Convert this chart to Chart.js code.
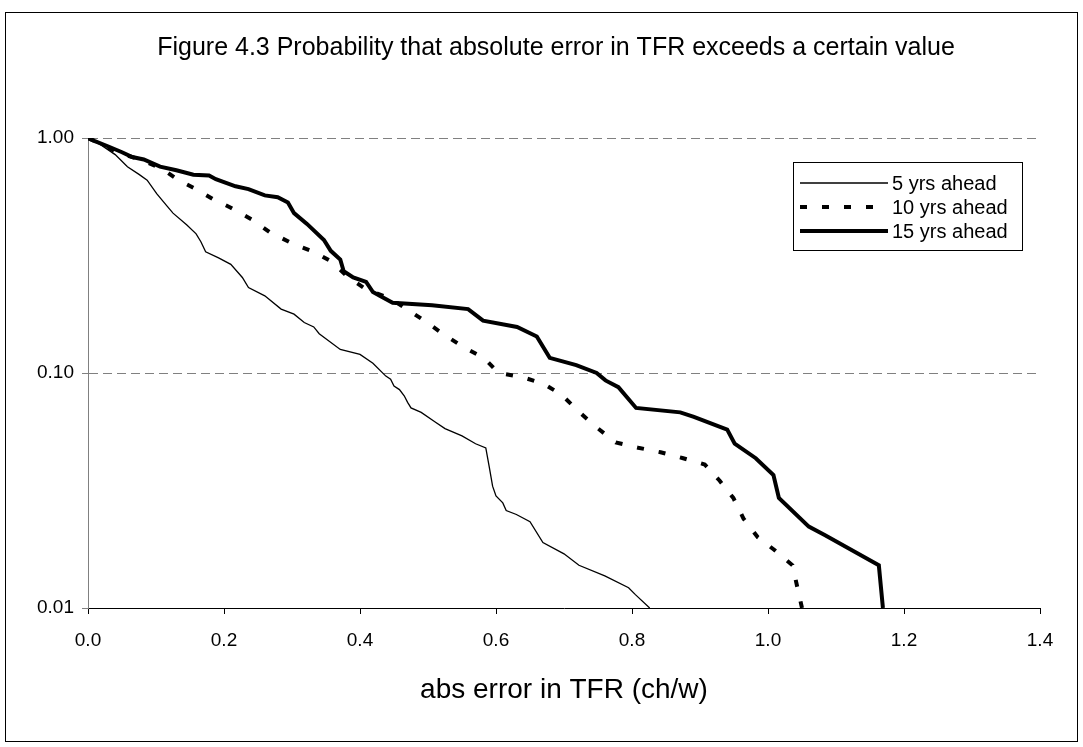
<!DOCTYPE html>
<html>
<head>
<meta charset="utf-8">
<script src="https://cdn.jsdelivr.net/npm/chart.js@4"></script>
<style>
    html, body { margin: 0; padding: 0; background: #ffffff; }
    #wrap { width: 1083px; height: 747px; }
</style>
</head>
<body>
<div id="wrap"><canvas id="tfrChart" width="1083" height="747"></canvas></div>
<script>
const chartTitle = "Figure 4.3 Probability that absolute error in TFR exceeds a certain value";
const xTitle = "abs error in TFR (ch/w)";
const seriesNames = ["5 yrs ahead", "10 yrs ahead", "15 yrs ahead"];

const err5 = [0, 0.01, 0.02, 0.04, 0.058, 0.075, 0.087, 0.101, 0.116, 0.125, 0.145, 0.159, 0.166, 0.173,
    0.192, 0.21, 0.227, 0.236, 0.26, 0.284, 0.303, 0.318, 0.332, 0.34, 0.371, 0.4, 0.419, 0.438, 0.445,
    0.45, 0.458, 0.465, 0.47, 0.475, 0.49, 0.51, 0.525, 0.55, 0.57, 0.585, 0.59, 0.595, 0.6, 0.61, 0.615,
    0.63, 0.65, 0.669, 0.7, 0.722, 0.76, 0.795, 0.805, 0.826];
const prob5 = [1, 0.97, 0.93, 0.85, 0.755, 0.7, 0.662, 0.58, 0.514, 0.479, 0.427, 0.391, 0.362, 0.328,
    0.309, 0.29, 0.255, 0.231, 0.213, 0.187, 0.178, 0.164, 0.157, 0.147, 0.126, 0.12, 0.11, 0.097, 0.094,
    0.088, 0.085, 0.08, 0.075, 0.071, 0.068, 0.062, 0.058, 0.054, 0.05, 0.048, 0.04, 0.033, 0.03, 0.028, 0.026,
    0.025, 0.0233, 0.019, 0.017, 0.0152, 0.0137, 0.0122, 0.0114, 0.01];

const err10 = [0, 0.02, 0.043, 0.077, 0.108, 0.133, 0.159, 0.183, 0.21, 0.241, 0.267, 0.301, 0.332, 0.358,
    0.383, 0.409, 0.444, 0.47, 0.496, 0.52, 0.552, 0.582, 0.604, 0.639, 0.67, 0.696, 0.723, 0.747, 0.776,
    0.809, 0.842, 0.874, 0.907, 0.929, 0.949, 0.964, 0.985, 1.009, 1.036, 1.043, 1.05];
const prob10 = [1, 0.94, 0.869, 0.81, 0.742, 0.662, 0.606, 0.551, 0.505, 0.45, 0.398, 0.355, 0.328, 0.298,
    0.255, 0.227, 0.208, 0.186, 0.166, 0.148, 0.129, 0.116, 0.1, 0.096, 0.09, 0.081, 0.068, 0.059, 0.0507,
    0.0481, 0.046, 0.0435, 0.0408, 0.0348, 0.0294, 0.024, 0.02, 0.0177, 0.0152, 0.0123, 0.01];

const err15 = [0, 0.01, 0.03, 0.05, 0.065, 0.082, 0.106, 0.13, 0.155, 0.178, 0.188, 0.217, 0.236, 0.26,
    0.279, 0.294, 0.303, 0.322, 0.347, 0.357, 0.371, 0.376, 0.39, 0.409, 0.419, 0.429, 0.448, 0.506, 0.559,
    0.581, 0.631, 0.66, 0.679, 0.718, 0.748, 0.761, 0.78, 0.806, 0.871, 0.891, 0.94, 0.951, 0.982, 1.008,
    1.016, 1.06, 1.084, 1.163, 1.169];
const prob15 = [1, 0.97, 0.92, 0.87, 0.83, 0.81, 0.755, 0.729, 0.698, 0.692, 0.668, 0.623, 0.606, 0.57,
    0.56, 0.532, 0.479, 0.431, 0.368, 0.331, 0.304, 0.271, 0.255, 0.244, 0.221, 0.213, 0.199, 0.194, 0.187,
    0.167, 0.157, 0.143, 0.116, 0.108, 0.1, 0.093, 0.087, 0.071, 0.068, 0.065, 0.0574, 0.05, 0.0434, 0.0368,
    0.0294, 0.0222, 0.0204, 0.0152, 0.01];

const xTicks = [0, 0.2, 0.4, 0.6, 0.8, 1.0, 1.2, 1.4];
const yTicks = [0.01, 0.1, 1];

function toPoints(xs, ys) {
    return xs.map((x, i) => ({ x: x, y: ys[i] }));
}

const FONT = "'Liberation Sans', Arial, sans-serif";

// outer frame, title and the legend box (excel look)
const framePlugin = {
    id: "frame",
    afterDraw(chart) {
        const c = chart.ctx;
        c.save();
        c.strokeStyle = "#000000";
        c.lineWidth = 1;
        c.strokeRect(5.5, 12.5, 1072, 729);

        c.fillStyle = "#000000";
        c.font = "25px " + FONT;
        c.textAlign = "center";
        c.textBaseline = "middle";
        c.fillText(chartTitle, 556, 48);

        const bx = 793.5, by = 162.5, bw = 229, bh = 88;
        c.fillStyle = "#ffffff";
        c.fillRect(bx, by, bw, bh);
        c.strokeRect(bx, by, bw, bh);

        const rows = [183, 207, 231];
        chart.data.datasets.forEach((ds, i) => {
            c.beginPath();
            c.lineWidth = ds.borderWidth;
            c.setLineDash(ds.borderDash || []);
            c.moveTo(800, rows[i]);
            c.lineTo(888, rows[i]);
            c.stroke();
            c.setLineDash([]);
            c.fillStyle = "#000000";
            c.font = "20px " + FONT;
            c.textBaseline = "middle";
            c.textAlign = "left";
            c.fillText(ds.label, 892, rows[i] + 1);
        });
        c.restore();
    }
};

const ctx = document.getElementById("tfrChart").getContext("2d");

const chart = new Chart(ctx, {
    type: "line",
    data: {
        datasets: [
            {
                label: seriesNames[0],
                data: toPoints(err5, prob5),
                borderColor: "#000000",
                borderWidth: 1.3
            },
            {
                label: seriesNames[1],
                data: toPoints(err10, prob10),
                borderColor: "#000000",
                borderWidth: 4,
                borderDash: [7, 15]
            },
            {
                label: seriesNames[2],
                data: toPoints(err15, prob15),
                borderColor: "#000000",
                borderWidth: 4
            }
        ]
    },
    options: {
        responsive: false,
        animation: false,
        events: [],
        elements: {
            point: { radius: 0 },
            line: { tension: 0, borderCapStyle: "butt", borderJoinStyle: "miter" }
        },
        layout: {
            padding: { top: 138, left: 0, right: 43, bottom: 0 }
        },
        plugins: {
            legend: { display: false },
            tooltip: { enabled: false },
            title: { display: false }
        },
        scales: {
            x: {
                type: "linear",
                min: 0,
                max: 1.4,
                afterFit: (scale) => { scale.height = 139; },
                afterBuildTicks: (scale) => {
                    scale.ticks = xTicks.map(v => ({ value: v }));
                },
                grid: {
                    drawOnChartArea: false,
                    drawTicks: true,
                    tickLength: 6,
                    tickColor: "#000000"
                },
                border: { color: "#000000", width: 1 },
                ticks: {
                    color: "#000000",
                    padding: 15,
                    maxRotation: 0,
                    font: { family: FONT, size: 19 },
                    callback: (v) => Number(v).toFixed(1)
                },
                title: {
                    display: true,
                    text: xTitle,
                    color: "#000000",
                    font: { family: FONT, size: 28 },
                    padding: { top: 0, bottom: 40 }
                }
            },
            y: {
                type: "logarithmic",
                min: 0.01,
                max: 1,
                afterFit: (scale) => { scale.width = 88; },
                afterBuildTicks: (scale) => {
                    scale.ticks = yTicks.map(v => ({ value: v }));
                },
                grid: {
                    color: (c) => (c.tick && c.tick.value === 0.01) ? "rgba(0,0,0,0)" : "#808080",
                    tickColor: "#808080",
                    tickLength: 6,
                    lineWidth: 1
                },
                border: { color: "#808080", width: 1, dash: [9, 5] },
                ticks: {
                    color: "#000000",
                    padding: 8,
                    font: { family: FONT, size: 19 },
                    callback: (v) => Number(v).toFixed(2)
                }
            }
        }
    },
    plugins: [framePlugin]
});
</script>
</body>
</html>
